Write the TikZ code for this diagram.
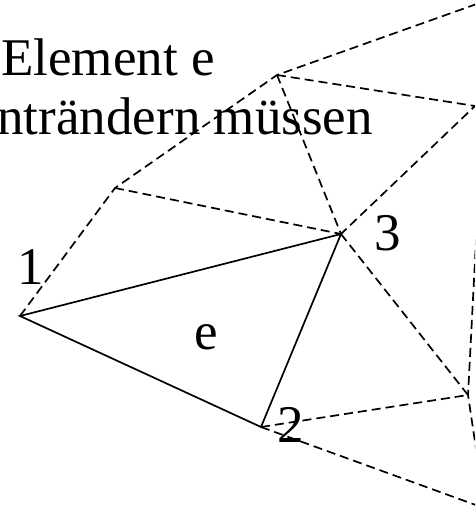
\documentclass[tikz,border=0pt]{standalone}
\usepackage{fontspec}
\setmainfont{Liberation Serif}

\begin{document}
\begin{tikzpicture}[x=1pt, y=-1pt,
    edge/.style={line width=1.7pt, black},
    link/.style={line width=1.7pt, black, dash pattern=on 9pt off 5pt},
    lbl/.style={inner sep=0pt, font=\fontsize{53}{60}\selectfont},
  ]
    \useasboundingbox (0,0) rectangle (475,508);
    \clip (0,0) rectangle (475,508);
    % Knoten des Elements e
    \coordinate (p1) at (20,316);
    \coordinate (p2) at (261,427);
    \coordinate (p3) at (341,234);
    % Nachbarknoten
    \coordinate (na) at (115,188);
    \coordinate (nb) at (277,75);
    \coordinate (nc) at (475,106);
    \coordinate (nd) at (468,395);
    \coordinate (ot) at (502,-5);
    \coordinate (ou) at (477,222);
    \coordinate (ol) at (478,462);
    \coordinate (or) at (495,512);
    % Nachbarkanten
    \draw[link] (p1) -- (na) -- (nb) -- (ot);
    \draw[link] (na) -- (p3);
    \draw[link] (nb) -- (p3);
    \draw[link] (nb) -- (nc) -- (p3);
    \draw[link] (p3) -- (nd);
    \draw[link] (p2) -- (nd);
    \draw[link] (ou) -- (nd) -- (ol);
    \draw[link] (p2) -- (or);
    % Element e
    \draw[edge, line join=miter] (p1) -- (p3) -- (p2) -- cycle;
    \node[lbl] (l1) at (31,267) {1};
    \node[lbl] (l2) at (291,425) {2};
    \node[lbl] (l3) at (388,233) {3};
    \node[lbl] (le) at (206,337) {e};
    \node[lbl, anchor=base west] (t1) at (1,76) {Element e};
    \node[lbl, anchor=base east] (t2) at (373,134) {nträndern müssen};
  \end{tikzpicture}
\end{document}
